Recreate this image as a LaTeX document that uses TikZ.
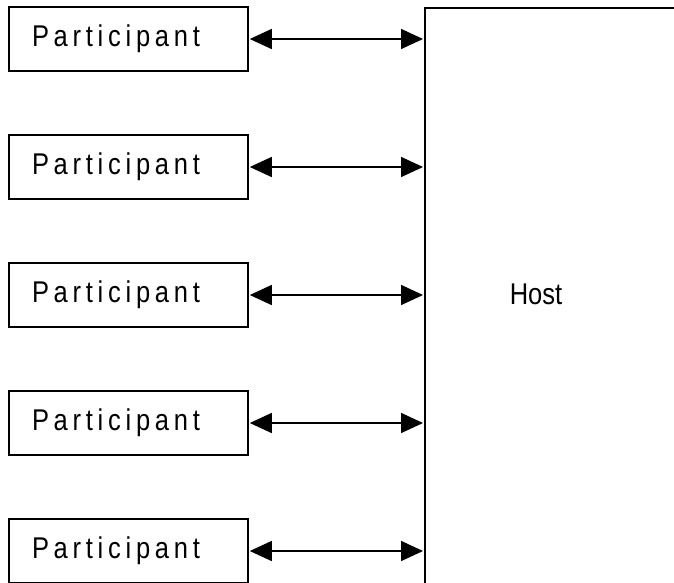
\documentclass[tikz,border=0pt]{standalone}
\usepackage{fontspec}
\setmainfont[FakeStretch=0.85]{Liberation Sans}
\newfontfamily\spacedfont[FakeStretch=0.85,LetterSpace=15.8]{Liberation Sans}
\usetikzlibrary{arrows.meta}
\begin{document}
\begin{tikzpicture}[x=1pt,y=-1pt,
  outline/.style={draw=black, line width=1.6pt},
  partbox/.style={outline, rectangle, minimum width=239pt, minimum height=64pt,
    text width=193pt, align=left, inner xsep=23pt, inner ysep=0pt,
    font=\spacedfont\fontsize{30}{36}\selectfont},
  link/.style={line width=1.6pt, {Triangle[length=22pt,width=20pt]}-{Triangle[length=22pt,width=20pt]}, shorten <=1pt, shorten >=1pt},
  hostlabel/.style={font=\fontsize{30}{36}\selectfont}]
  \useasboundingbox (0,0) rectangle (674,582);
  \begin{scope}
    \clip (0,0) rectangle (674,582);
    % host block, running past the right and bottom edges
    \node[outline, rectangle, anchor=north west, minimum width=300pt, minimum height=590pt] (host) at (424,7) {};
    \node[hostlabel] (hosttext) at (536,294) {Host};
    % participants
    \foreach \i/\y in {1/39,2/167,3/295,4/423,5/551}{
      \node[partbox] (p\i) at (128.5,\y) {Participant};
      \draw[link] (p\i.east) -- (p\i.east -| host.west);
    }
  \end{scope}
\end{tikzpicture}
\end{document}
